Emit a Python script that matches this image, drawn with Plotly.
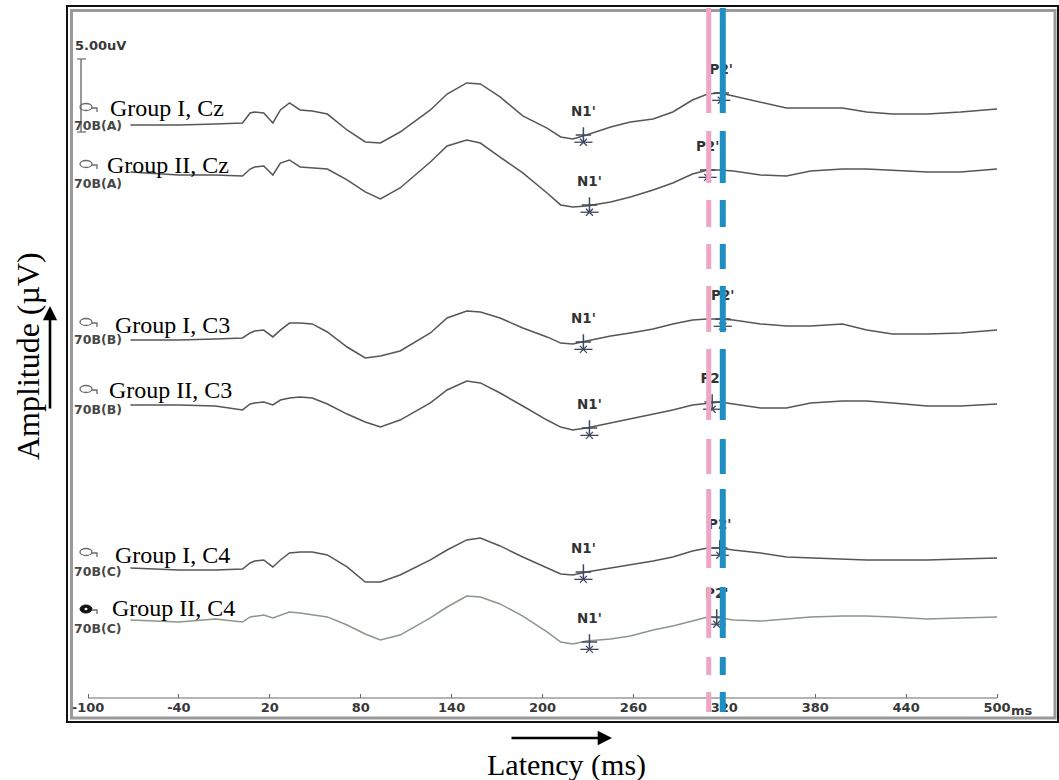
import plotly.graph_objects as go

# ---------------- data ----------------
latency_ms = [-72, -40, -16, 2, 7, 10, 16, 22, 27, 33, 40, 48, 58, 71, 83, 93, 106,
              126, 137, 150, 159, 172, 187, 203, 212, 220, 229, 245, 258, 273, 286,
              299, 309, 317, 326, 344, 361, 377, 398, 414, 431, 454, 476, 500]

group1_cz = [0, 0, 0.07, 0.14, 0.82, 0.89, 0.82, 0.14, 1.03, 1.51, 1.03, 0.96, 0.75,
             -0.34, -1.16, -1.23, -0.48, 1.03, 2.12, 2.88, 2.81, 1.92, 0.62, -0.21,
             -0.82, -0.96, -0.68, -0.14, 0.21, 0.41, 0.89, 1.71, 2.12, 2.19, 1.99,
             1.58, 1.16, 1.16, 1.16, 0.89, 0.75, 0.75, 0.89, 1.10]
group2_cz = [0.21, 0, 0, -0.07, 0.41, 0.55, 0.62, 0, 0.82, 1.03, 0.55, 0.48, 0.41,
             -0.34, -1.16, -1.64, -0.89, 0.89, 1.99, 2.40, 2.19, 1.23, 0.14, -1.23,
             -2.05, -2.19, -2.12, -1.85, -1.51, -1.03, -0.55, 0.07, 0.34, 0.34, 0.27,
             0, -0.07, 0.27, 0.41, 0.41, 0.34, 0.21, 0.21, 0.41]
group1_c3 = [0, 0, 0.07, 0.14, 0.48, 0.62, 0.68, 0.21, 0.68, 1.16, 1.16, 1.10, 0.55,
             -0.48, -1.23, -1.10, -0.75, 0.48, 1.51, 1.99, 1.92, 1.51, 0.82, 0.21,
             -0.21, -0.27, -0.07, 0.27, 0.48, 0.75, 1.10, 1.37, 1.44, 1.44, 1.37,
             1.10, 0.96, 0.96, 1.10, 0.68, 0.41, 0.41, 0.48, 0.68]
group2_c3 = [0, 0, -0.07, -0.34, 0.07, 0.14, 0.21, 0, 0.34, 0.48, 0.55, 0.48, 0.07,
             -0.62, -1.16, -1.51, -1.03, 0.14, 1.03, 1.64, 1.51, 0.82, -0.07, -1.03,
             -1.51, -1.71, -1.58, -1.23, -0.96, -0.62, -0.34, 0, 0.14, 0.21, 0.07,
             -0.21, -0.21, 0.14, 0.27, 0.27, 0.14, -0.07, -0.07, 0.07]
group1_c4 = [0.07, -0.07, -0.07, 0, 0.41, 0.55, 0.62, 0.14, 0.62, 1.10, 1.16, 1.16,
             0.96, 0.14, -0.89, -0.89, -0.41, 0.62, 1.30, 1.99, 2.12, 1.58, 0.82, 0.07,
             -0.34, -0.41, -0.21, 0.07, 0.27, 0.55, 0.82, 1.23, 1.44, 1.44, 1.30, 1.10,
             0.82, 0.75, 0.68, 0.62, 0.62, 0.62, 0.68, 0.75]
group2_c4 = [0, -0.14, 0.07, -0.14, 0.21, 0.27, 0.34, 0.14, 0.34, 0.55, 0.48, 0.34,
             0.21, -0.34, -0.96, -1.37, -1.03, 0.14, 0.89, 1.64, 1.58, 1.10, 0.27, -0.82,
             -1.51, -1.64, -1.44, -1.30, -1.10, -0.68, -0.41, -0.07, 0.21, 0.14, 0,
             -0.07, 0.07, 0.21, 0.27, 0.27, 0.21, 0.07, 0.14, 0.21]

channel_names = ["Group I, Cz", "Group II, Cz", "Group I, C3",
                 "Group II, C3", "Group I, C4", "Group II, C4"]
electrode_tags = ["70B(A)", "70B(A)", "70B(B)", "70B(B)", "70B(C)", "70B(C)"]

n1_latency = [227, 231, 227, 231, 227, 231]
n1_amplitude = [-0.68, -2.05, -0.14, -1.58, -0.21, -1.51]
p2_latency = [318, 309, 319, 312, 317, 315]
p2_amplitude = [2.19, 0.34, 1.44, 0.21, 1.44, 0.21]

group1_p2_mean_ms = 309.7
group2_p2_mean_ms = 319.0

tick_vals = [-100, -40, 20, 80, 140, 200, 260, 320, 380, 440, 500]
tick_text = ["-100", "-40", "20", "80", "140", "200", "260", "320", "380", "440", "500"]
scale_bar_uv = 5.0

waves = [group1_cz, group2_cz, group1_c3, group2_c3, group1_c4, group2_c4]

# ---------------- layout geometry ----------------
W, H = 1059, 780
PX_PER_UV = 14.6
row_px = [125, 175, 340, 405, 569, 620]          # baseline of each channel row
row_offset = [-p / PX_PER_UV for p in row_px]
X0_PX, X1_PX = 88, 997                             # -100 ms and 500 ms
px_per_ms = (X1_PX - X0_PX) / 600.0
x_range = [-100 - X0_PX / px_per_ms, -100 + (W - X0_PX) / px_per_ms]
y_range = [-H / PX_PER_UV, 0]


def fx(px):
    return px / W


def fy(py):
    return 1 - py / H


wave_colors = ["#565656"] * 5 + ["#8a978a"]
mark_color = "#3f4860"
small_font = dict(family="DejaVu Sans", size=13, color="#383838", weight="bold")

fig = go.Figure()

for i, wv in enumerate(waves):
    fig.add_trace(go.Scatter(
        x=latency_ms, y=[v + row_offset[i] for v in wv], mode="lines",
        line=dict(color=wave_colors[i], width=1.5), hoverinfo="skip",
        showlegend=False))

# peak markers: "+" on the peak with a bow-tie just below
for lat, amp in ((n1_latency, n1_amplitude), (p2_latency, p2_amplitude)):
    ys = [a + row_offset[i] for i, a in enumerate(amp)]
    ys_low = [y - 0.5 for y in ys]
    fig.add_trace(go.Scatter(
        x=lat, y=ys, mode="markers", hoverinfo="skip", showlegend=False,
        marker=dict(symbol="cross-thin", size=11,
                    line=dict(color=mark_color, width=1.5))))
    fig.add_trace(go.Scatter(
        x=lat, y=ys_low, mode="markers", hoverinfo="skip", showlegend=False,
        marker=dict(symbol="x-thin", size=7,
                    line=dict(color=mark_color, width=1.3))))
    fig.add_trace(go.Scatter(
        x=lat, y=ys_low, mode="markers", hoverinfo="skip", showlegend=False,
        marker=dict(symbol="line-ew", size=13,
                    line=dict(color=mark_color, width=1.3))))

# peak names
for lat, amp, name in ((n1_latency, n1_amplitude, "N1'"),
                       (p2_latency, p2_amplitude, "P2'")):
    fig.add_trace(go.Scatter(
        x=lat, y=[a + row_offset[i] for i, a in enumerate(amp)],
        mode="markers+text", text=[name] * len(lat), textposition="top center",
        marker=dict(size=24, opacity=0), hoverinfo="skip", showlegend=False,
        textfont=dict(family="DejaVu Sans", size=13.5, color="#333333",
                      weight="bold")))

shapes = []

# window frame
shapes.append(dict(type="rect", xref="paper", yref="paper",
                   x0=fx(67), x1=fx(1058), y0=fy(722), y1=fy(6),
                   line=dict(color="#111111", width=2), layer="above"))
shapes.append(dict(type="rect", xref="paper", yref="paper",
                   x0=fx(71.5), x1=fx(1055), y0=fy(718), y1=fy(10.5),
                   line=dict(color="#9a9a9a", width=3), layer="above"))

# time axis line
shapes.append(dict(type="line", xref="x", yref="paper", x0=-100, x1=500,
                   y0=fy(698), y1=fy(698), line=dict(color="#6a6a6a", width=1.2)))

# amplitude scale bar
sb_top = -59 / PX_PER_UV
shapes.append(dict(type="line", xref="paper", yref="y", x0=fx(81), x1=fx(81),
                   y0=sb_top, y1=sb_top - scale_bar_uv,
                   line=dict(color="#777777", width=1.5)))
for yy in (sb_top, sb_top - scale_bar_uv):
    shapes.append(dict(type="line", xref="paper", yref="y", x0=fx(77), x1=fx(86),
                       y0=yy, y1=yy, line=dict(color="#777777", width=1.3)))

# dashed P2 reference lines
segments = [(8, 113), (131, 183), (200, 227), (244, 269), (286, 332), (349, 420),
            (439, 474), (489, 568), (587, 638), (657, 675), (692, 712)]
for ms, col, wdt in ((group1_p2_mean_ms, "#efa6c4", 5), (group2_p2_mean_ms, "#1f8fc3", 6)):
    for a, b in segments:
        shapes.append(dict(type="line", xref="x", yref="paper", x0=ms, x1=ms,
                           y0=fy(a), y1=fy(b), line=dict(color=col, width=wdt),
                           layer="above"))

# electrode icons
icon_y = [107, 164, 322, 389, 552, 609]
for i, cy in enumerate(icon_y):
    if i == 5:
        shapes.append(dict(type="circle", xref="paper", yref="paper",
                           x0=fx(80), x1=fx(92), y0=fy(cy + 4), y1=fy(cy - 4),
                           fillcolor="#111111", line=dict(color="#111111", width=1)))
        shapes.append(dict(type="circle", xref="paper", yref="paper",
                           x0=fx(84.5), x1=fx(87.5), y0=fy(cy + 1.3), y1=fy(cy - 1.3),
                           fillcolor="#ffffff", line=dict(width=0)))
    else:
        shapes.append(dict(type="circle", xref="paper", yref="paper",
                           x0=fx(80), x1=fx(92), y0=fy(cy + 3.5), y1=fy(cy - 3.5),
                           line=dict(color="#6a6a6a", width=1.3)))
    shapes.append(dict(type="path", xref="paper", yref="paper",
                       path=f"M {fx(92)} {fy(cy + 1)} L {fx(97)} {fy(cy + 1)} L {fx(97)} {fy(cy + 5)}",
                       line=dict(color="#6a6a6a", width=1.3)))

annotations = []

# channel titles
label_pos = [(108, 108), (105, 165), (113, 325), (107, 390), (113, 555), (110, 608)]
for (lx, ly), name in zip(label_pos, channel_names):
    annotations.append(dict(xref="paper", yref="paper", x=fx(lx), y=fy(ly),
                            xanchor="left", yanchor="middle", showarrow=False,
                            text=name,
                            font=dict(family="Liberation Serif", size=24, color="#000000")))

# electrode tags
tag_y = [126, 183, 339, 409, 571, 628]
for ty, tag in zip(tag_y, electrode_tags):
    annotations.append(dict(xref="paper", yref="paper", x=fx(72), y=fy(ty),
                            xanchor="left", yanchor="middle", showarrow=False,
                            text=tag,
                            font=dict(family="DejaVu Sans", size=12.5,
                                      color="#474747", weight="bold")))

annotations.append(dict(xref="paper", yref="paper", x=fx(73), y=fy(45),
                        xanchor="left", yanchor="middle", showarrow=False,
                        text=f"{scale_bar_uv:.2f}uV", font=small_font))

annotations.append(dict(xref="x", yref="paper", x=500, y=fy(710),
                        xanchor="left", yanchor="middle", showarrow=False,
                        xshift=12, text="ms", font=small_font))

# axis titles with arrows
annotations.append(dict(xref="paper", yref="paper", x=fx(566), y=fy(765),
                        xanchor="center", yanchor="middle", showarrow=False,
                        text="Latency (ms)",
                        font=dict(family="Liberation Serif", size=30, color="#000000")))
annotations.append(dict(xref="paper", yref="paper", x=fx(28), y=fy(356),
                        xanchor="center", yanchor="middle", showarrow=False,
                        textangle=-90, text="Amplitude (µV)",
                        font=dict(family="Liberation Serif", size=32, color="#000000")))
annotations.append(dict(xref="paper", yref="paper", x=fx(612), y=fy(738),
                        ax=-102, ay=0, axref="pixel", ayref="pixel", text="",
                        showarrow=True, arrowhead=2, arrowsize=1.1, arrowwidth=2.6,
                        arrowcolor="#000000"))
annotations.append(dict(xref="paper", yref="paper", x=fx(50), y=fy(306),
                        ax=0, ay=104, axref="pixel", ayref="pixel", text="",
                        showarrow=True, arrowhead=2, arrowsize=1.1, arrowwidth=2.6,
                        arrowcolor="#000000"))

fig.update_layout(
    width=W, height=H, margin=dict(l=0, r=0, t=0, b=0),
    paper_bgcolor="#ffffff", plot_bgcolor="#ffffff",
    showlegend=False, shapes=shapes, annotations=annotations,
    xaxis=dict(range=x_range, anchor="free", position=fy(698),
               tickvals=tick_vals, ticktext=tick_text, ticks="inside", ticklen=4,
               tickcolor="#666666", tickwidth=1.2, showgrid=False, zeroline=False,
               showline=False, fixedrange=True, tickfont=small_font),
    yaxis=dict(range=y_range, visible=False, fixedrange=True),
)

fig.write_html("out.html")
